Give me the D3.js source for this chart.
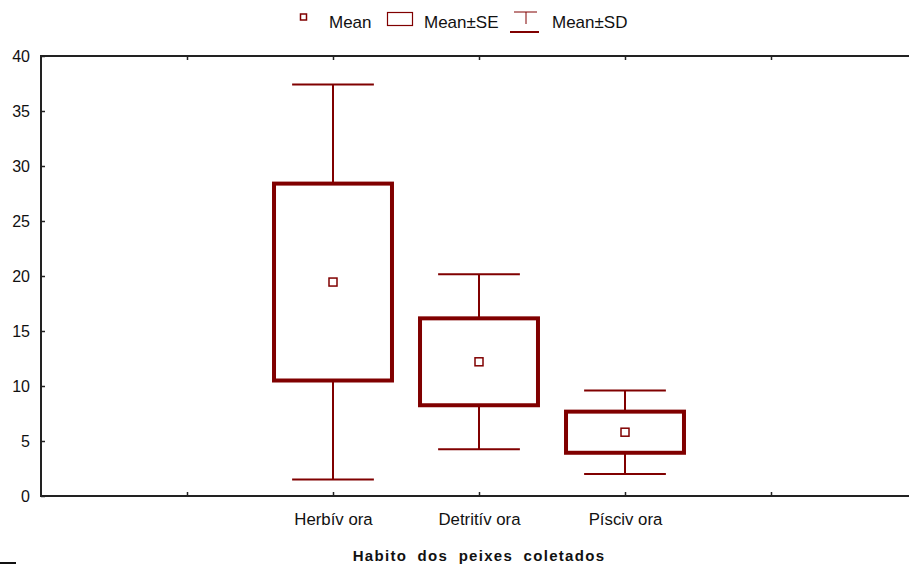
<!DOCTYPE html>
<html>
<head>
<meta charset="utf-8">
<script src="https://cdn.jsdelivr.net/npm/d3@7"></script>
<style>
  html, body { margin: 0; padding: 0; background: #fff; }
  svg { display: block; }
  text { font-family: "Liberation Sans", Arial, sans-serif; fill: #111; }
</style>
</head>
<body>
<svg id="chart" width="909" height="564"></svg>
<script>
// Feeding habit groups and their summary statistics
const categories = ["Herbív ora", "Detritív ora", "Písciv ora"];
const means = [19.45, 12.2, 5.8];
const stdErrors = [8.95, 3.95, 1.87];
const stdDevs = [17.95, 7.95, 3.8];
const yTicks = [0, 5, 10, 15, 20, 25, 30, 35, 40];
const xTitle = "Habito dos peixes coletados";

const red = "#800000";
const svg = d3.select("#chart");

const plotLeft = 41, plotTop = 56, plotBottom = 496;
// categories sit on slots 2..4 of a 0..6 slot axis
const x = d3.scaleLinear().domain([0, 6]).range([plotLeft, plotLeft + 6 * 146]);
const y = d3.scaleLinear().domain([0, 40]).range([plotBottom, plotTop]);
const slot = i => i + 2;

// frame lines: top edge and left/bottom axes
svg.append("line").attr("x1", plotLeft).attr("x2", 909).attr("y1", plotTop).attr("y2", plotTop)
  .attr("stroke", "#222").attr("stroke-width", 2);
svg.append("line").attr("x1", plotLeft).attr("x2", 909).attr("y1", plotBottom).attr("y2", plotBottom)
  .attr("stroke", "#222").attr("stroke-width", 2);
svg.append("line").attr("x1", plotLeft).attr("x2", plotLeft).attr("y1", plotTop - 1).attr("y2", plotBottom + 1)
  .attr("stroke", "#222").attr("stroke-width", 2);

// y axis (ticks point inward)
const yAxis = svg.append("g").attr("transform", `translate(${plotLeft},0)`)
  .call(d3.axisLeft(y).tickValues(yTicks).tickSize(-4).tickPadding(11));
yAxis.select(".domain").remove();
yAxis.selectAll("line").attr("stroke", "#222").attr("stroke-width", 1.5);
yAxis.selectAll("text").attr("font-size", 16).attr("font-family", "Liberation Sans, Arial, sans-serif").attr("fill", "#111");

// bottom x axis (ticks point inward)
const xLabel = v => (v >= 2 && v <= 4) ? categories[v - 2] : "";
const xAxis = svg.append("g").attr("transform", `translate(0,${plotBottom})`)
  .call(d3.axisBottom(x).tickValues([1, 2, 3, 4, 5]).tickFormat(xLabel).tickSize(-4).tickPadding(17));
xAxis.select(".domain").remove();
xAxis.selectAll("line").attr("stroke", "#222").attr("stroke-width", 1.5);
xAxis.selectAll("text").attr("font-size", 16.8).attr("font-family", "Liberation Sans, Arial, sans-serif").attr("fill", "#111");

// top edge ticks
const xTop = svg.append("g").attr("transform", `translate(0,${plotTop})`)
  .call(d3.axisTop(x).tickValues([1, 2, 3, 4, 5]).tickFormat("").tickSize(-4));
xTop.select(".domain").remove();
xTop.selectAll("line").attr("stroke", "#222").attr("stroke-width", 1.5);

// whiskers (mean ± SD), boxes (mean ± SE), mean markers
const unit = x(1) - x(0);
const boxHalf = unit * 0.404;
const capHalf = unit * 0.28;
const g = svg.append("g");
categories.forEach((c, i) => {
  const cx = x(slot(i));
  const m = means[i], se = stdErrors[i], sd = stdDevs[i];
  // upper whisker
  g.append("line").attr("x1", cx).attr("x2", cx).attr("y1", y(m + sd)).attr("y2", y(m + se))
    .attr("stroke", red).attr("stroke-width", 2);
  g.append("line").attr("x1", cx - capHalf).attr("x2", cx + capHalf).attr("y1", y(m + sd)).attr("y2", y(m + sd))
    .attr("stroke", red).attr("stroke-width", 2);
  // lower whisker
  g.append("line").attr("x1", cx).attr("x2", cx).attr("y1", y(m - se)).attr("y2", y(m - sd))
    .attr("stroke", red).attr("stroke-width", 2);
  g.append("line").attr("x1", cx - capHalf).attr("x2", cx + capHalf).attr("y1", y(m - sd)).attr("y2", y(m - sd))
    .attr("stroke", red).attr("stroke-width", 2);
  // SE box
  g.append("rect").attr("x", cx - boxHalf).attr("y", y(m + se))
    .attr("width", 2 * boxHalf).attr("height", y(m - se) - y(m + se))
    .attr("fill", "none").attr("stroke", red).attr("stroke-width", 4);
  // mean marker
  g.append("rect").attr("x", cx - 4).attr("y", y(m) - 4).attr("width", 8).attr("height", 8)
    .attr("fill", "#fff").attr("stroke", red).attr("stroke-width", 1.5);
});

// x axis title
svg.append("text").attr("x", x(3)).attr("y", 561).attr("text-anchor", "middle")
  .attr("font-size", 15).attr("font-weight", "bold").attr("letter-spacing", 1.3).attr("word-spacing", 5)
  .text(xTitle);

// small mark at lower left
svg.append("line").attr("x1", 0).attr("x2", 16).attr("y1", 563).attr("y2", 563)
  .attr("stroke", "#111").attr("stroke-width", 2);

// legend
const lg = svg.append("g");
lg.append("rect").attr("x", 300.5).attr("y", 14).attr("width", 6).attr("height", 6)
  .attr("fill", "#fff").attr("stroke", red).attr("stroke-width", 1.5);
lg.append("text").attr("x", 329).attr("y", 28).attr("font-size", 17).text("Mean");
lg.append("rect").attr("x", 387.5).attr("y", 12.5).attr("width", 25).attr("height", 13)
  .attr("fill", "#fff").attr("stroke", red).attr("stroke-width", 1.2);
lg.append("text").attr("x", 424).attr("y", 28).attr("font-size", 17).text("Mean±SE");
lg.append("line").attr("x1", 514).attr("x2", 537).attr("y1", 12).attr("y2", 12)
  .attr("stroke", red).attr("stroke-width", 1);
lg.append("line").attr("x1", 526).attr("x2", 526).attr("y1", 12).attr("y2", 24)
  .attr("stroke", red).attr("stroke-width", 1);
lg.append("line").attr("x1", 510).attr("x2", 539).attr("y1", 32).attr("y2", 32)
  .attr("stroke", red).attr("stroke-width", 2);
lg.append("text").attr("x", 552).attr("y", 28).attr("font-size", 17).text("Mean±SD");
</script>
</body>
</html>
